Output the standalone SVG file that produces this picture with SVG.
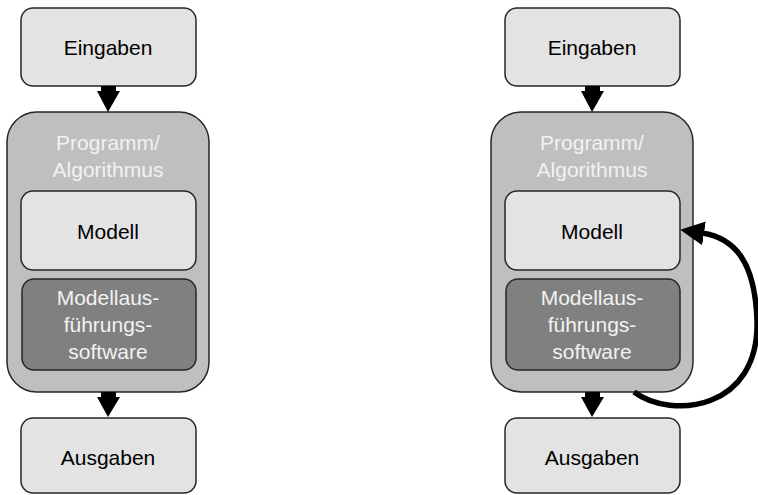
<svg xmlns="http://www.w3.org/2000/svg" width="758" height="495" viewBox="0 0 758 495">
<defs>
<style>
.light{fill:#e3e3e3;stroke:#262626;stroke-width:1.5}
.prog{fill:#bfbfbf;stroke:#262626;stroke-width:1.5}
.dark{fill:#808080;stroke:#262626;stroke-width:1.5}
text{font-family:"Liberation Sans",Arial,sans-serif;font-size:21px;text-anchor:middle}
.tb{fill:#000}
.tw{fill:#f2f2f2}
.arr{fill:#000}
.curve{fill:none;stroke:#000;stroke-width:5.5}
</style>
<marker id="ah" markerUnits="userSpaceOnUse" markerWidth="26" markerHeight="28" viewBox="0 0 26 28" refX="2" refY="14" orient="auto">
<path d="M0,2 L24,14 L0,26 Z" fill="#000"/>
</marker>
</defs>
<g id="left">
<g id="eingaben-l"><rect class="light" x="21" y="8" width="175" height="78" rx="12"/><text class="tb" x="108" y="55">Eingaben</text></g>
<g id="programm-l"><rect class="prog" x="7" y="112" width="202" height="280" rx="30"/><text class="tw" x="108" y="150">Programm/</text><text class="tw" x="108" y="177">Algorithmus</text></g>
<g id="modell-l"><rect class="light" x="21" y="191" width="175" height="79" rx="12"/><text class="tb" x="108" y="239">Modell</text></g>
<g id="software-l"><rect class="dark" x="22" y="279" width="174" height="91" rx="12"/><text class="tw" x="108" y="305">Modellaus-</text><text class="tw" x="108" y="332">führungs-</text><text class="tw" x="108" y="359">software</text></g>
<g id="ausgaben-l"><rect class="light" x="21" y="418" width="175" height="75" rx="12"/><text class="tb" x="108" y="465">Ausgaben</text></g>
</g>
<g id="right">
<g id="eingaben-r"><rect class="light" x="505" y="8" width="175" height="78" rx="12"/><text class="tb" x="592" y="55">Eingaben</text></g>
<g id="programm-r"><rect class="prog" x="491" y="112" width="202" height="280" rx="30"/><text class="tw" x="592" y="150">Programm/</text><text class="tw" x="592" y="177">Algorithmus</text></g>
<g id="modell-r"><rect class="light" x="505" y="191" width="175" height="79" rx="12"/><text class="tb" x="592" y="239">Modell</text></g>
<g id="software-r"><rect class="dark" x="506" y="279" width="174" height="91" rx="12"/><text class="tw" x="592" y="305">Modellaus-</text><text class="tw" x="592" y="332">führungs-</text><text class="tw" x="592" y="359">software</text></g>
<g id="ausgaben-r"><rect class="light" x="505" y="418" width="175" height="75" rx="12"/><text class="tb" x="592" y="465">Ausgaben</text></g>
</g>
<g id="connectors">
<path class="arr" d="M101,86 H116 V91 H120 L108,112 L97,91 H101 Z"/>
<path class="arr" d="M101,392 H116 V397 H120 L108,417 L97,397 H101 Z"/>
<path class="arr" d="M585,86 H600 V91 H604 L592,112 L581,91 H585 Z"/>
<path class="arr" d="M585,392 H600 V397 H604 L592,417 L581,397 H585 Z"/>
<path class="curve" d="M634,392 C672,420 760,410 757,320 C755,262 735,238 702,233" marker-end="url(#ah)"/>
</g>
</svg>
